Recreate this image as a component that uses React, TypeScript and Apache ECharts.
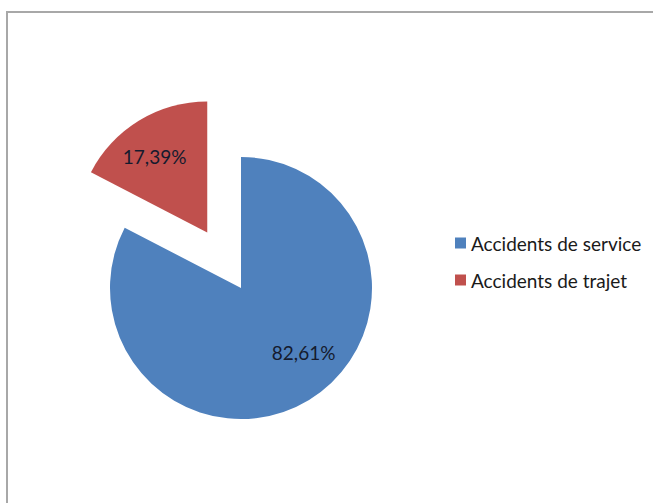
import React, { useEffect, useRef } from "react";
import * as echarts from "echarts";

const categories = ["Accidents de service", "Accidents de trajet"];
const values = [82.61, 17.39];
const colors = ["#4F81BD", "#C0504D"];

export default function App() {
  const ref = useRef<HTMLDivElement>(null);
  useEffect(() => {
    document.body.style.margin = "0";
    const chart = echarts.init(ref.current!, undefined, { renderer: "svg" });
    const offsets = [
      [27, 6],
      [-17, -17],
    ];
    chart.setOption({
      animation: false,
      backgroundColor: "#ffffff",
      graphic: [
        {
          type: "rect",
          shape: { x: 7, y: 12, width: 700, height: 600 },
          style: { fill: "none", stroke: "#a8a8a8", lineWidth: 2 },
          silent: true,
        },
      ],
      legend: {
        orient: "vertical",
        left: 450,
        top: 228,
        icon: "rect",
        itemWidth: 11,
        itemHeight: 11,
        itemGap: 17,
        selectedMode: false,
        textStyle: {
          fontFamily: "Lato",
          fontSize: 19,
          lineHeight: 20,
          color: "#1a1a1a",
        },
        data: categories,
      },
      series: [
        {
          type: "pie",
          center: [241, 288],
          radius: 131,
          startAngle: 90,
          clockwise: true,
          selectedMode: "single",
          selectedOffset: 65,
          emphasis: { disabled: true },
          labelLine: { show: false },
          label: {
            show: true,
            position: "inside",
            fontFamily: "Lato",
            fontSize: 19,
            color: "#151b2e",
            formatter: (p: any) => p.value.toFixed(2).replace(".", ",") + "%",
          },
          data: categories.map((name, i) => ({
            name,
            value: values[i],
            selected: i === 1,
            itemStyle: { color: colors[i] },
            label: { offset: offsets[i] },
            select: { label: { offset: offsets[i] } },
          })),
        },
      ],
    });
    return () => chart.dispose();
  }, []);
  return (
    <div
      ref={ref}
      style={{ position: "absolute", left: 0, top: 0, width: 653, height: 503 }}
    />
  );
}
